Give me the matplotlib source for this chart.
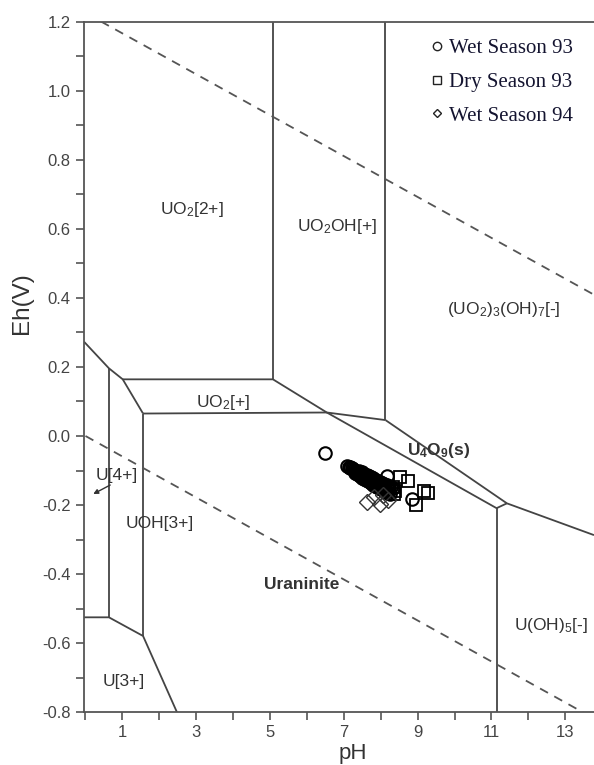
import matplotlib
matplotlib.use("Agg")
import matplotlib.pyplot as plt
from matplotlib.lines import Line2D
from matplotlib.ticker import MultipleLocator, FuncFormatter

plt.rcParams['font.family'] = ['Liberation Sans', 'DejaVu Sans']
plt.rcParams['mathtext.fontset'] = 'custom'
plt.rcParams['mathtext.rm'] = 'Liberation Sans'
plt.rcParams['mathtext.it'] = 'Liberation Sans:italic'
plt.rcParams['mathtext.bf'] = 'Liberation Sans:bold'

# sample points (pH, Eh in V)
wet93_ph = [6.49, 8.17, 8.84,
            7.10, 7.13, 7.16, 7.18, 7.21, 7.24, 7.27, 7.30, 7.33, 7.36,
            7.39, 7.42, 7.45, 7.47, 7.50, 7.53, 7.56, 7.59, 7.62, 7.64,
            7.67, 7.70, 7.73, 7.76, 7.78, 7.81, 7.84, 7.87, 7.90, 7.93,
            7.95, 7.98, 8.01, 8.04, 8.07, 8.10, 8.13, 8.16, 8.19, 8.23,
            7.30, 7.35, 7.40, 7.45, 7.50, 7.55, 7.60, 7.65, 7.70, 7.75,
            7.80, 7.85, 7.90, 7.95, 8.00, 8.05, 8.10, 8.15, 8.20, 8.25,
            7.42, 7.48, 7.56, 7.62, 7.68, 7.74, 7.80, 7.86, 7.92, 7.98,
            8.04, 8.10, 8.16, 8.22, 8.28, 8.32]
wet93_eh = [-0.048, -0.116, -0.182,
            -0.086, -0.089, -0.090, -0.093, -0.094, -0.097, -0.098, -0.101, -0.102, -0.104,
            -0.106, -0.108, -0.110, -0.111, -0.113, -0.115, -0.117, -0.118, -0.120, -0.121,
            -0.123, -0.125, -0.127, -0.128, -0.130, -0.131, -0.133, -0.135, -0.136, -0.138,
            -0.139, -0.141, -0.143, -0.144, -0.146, -0.148, -0.149, -0.151, -0.152, -0.155,
            -0.106, -0.110, -0.114, -0.117, -0.121, -0.124, -0.127, -0.131, -0.134, -0.137,
            -0.141, -0.144, -0.147, -0.150, -0.153, -0.157, -0.160, -0.163, -0.166, -0.169,
            -0.102, -0.105, -0.109, -0.112, -0.116, -0.119, -0.122, -0.126, -0.129, -0.132,
            -0.136, -0.139, -0.142, -0.146, -0.149, -0.152]

dry93_ph = [8.53, 8.75, 9.16, 9.27, 8.96, 8.33, 8.40, 8.36]
dry93_eh = [-0.118, -0.130, -0.159, -0.166, -0.200, -0.148, -0.160, -0.168]

wet94_ph = [7.62, 7.98, 8.21, 7.82, 8.06]
wet94_eh = [-0.190, -0.198, -0.185, -0.178, -0.172]

# stability field boundaries, each a polyline (pH list, Eh list)
boundaries = [
    ([5.08, 5.08], [1.2, 0.164]),
    ([8.13, 8.13], [1.2, 0.046]),
    ([-0.04, 0.635, 1.01, 1.56], [0.273, 0.196, 0.164, 0.065]),
    ([1.01, 5.08, 6.54, 8.13], [0.164, 0.164, 0.068, 0.046]),
    ([1.56, 6.54], [0.065, 0.068]),
    ([8.13, 11.42, 13.78], [0.046, -0.195, -0.287]),
    ([6.54, 11.14, 11.42], [0.068, -0.209, -0.195]),
    ([11.14, 11.14], [-0.209, -0.8]),
    ([0.635, 0.635], [0.196, -0.525]),
    ([1.56, 1.56], [0.065, -0.579]),
    ([-0.04, 0.635, 1.56, 2.48], [-0.525, -0.525, -0.579, -0.8]),
]

# water stability limits
water_upper = ([0.42, 13.78], [1.2, 0.409])
water_lower = ([0.0, 13.48], [0.0, -0.8])

# species labels: text, pH, Eh, bold
species = [
    ('UO$_2$[2+]', 2.88, 0.655, False),
    ('UO$_2$OH[+]', 6.81, 0.607, False),
    ('(UO$_2$)$_3$(OH)$_7$[-]', 11.33, 0.366, False),
    ('UO$_2$[+]', 3.74, 0.097, False),
    (r'$\mathbf{U_4O_9}$(s)', 9.56, -0.042, True),
    ('Uraninite', 5.87, -0.43, True),
    ('U(OH)$_5$[-]', 12.6, -0.548, False),
    ('UOH[3+]', 2.0, -0.253, False),
    ('U[4+]', 0.86, -0.113, False),
    ('U[3+]', 1.03, -0.711, False),
]

fig = plt.figure(figsize=(5.94, 7.65), dpi=100)
ax = fig.add_axes([84 / 594, 1 - 712.3 / 765, 510 / 594, 0.903])

line_col = '#444444'
for xs, ys in boundaries:
    ax.plot(xs, ys, color=line_col, lw=1.3, solid_capstyle='butt')
for xs, ys in (water_upper, water_lower):
    ax.plot(xs, ys, color='#555555', lw=1.3, linestyle=(0, (5, 4)))

for txt, x, y, bold in species:
    ax.text(x, y, txt, ha='center', va='center', fontsize=12.5, color='#333333',
            fontweight='bold' if bold else 'normal')

ax.annotate('', xy=(0.21, -0.168), xytext=(0.67, -0.142),
            arrowprops=dict(arrowstyle='-|>', color='#333333', lw=1.0,
                            mutation_scale=7, shrinkA=0, shrinkB=0))

ax.plot(wet93_ph, wet93_eh, 'o', mfc='none', mec='black', ms=9, mew=1.5)
ax.plot(dry93_ph, dry93_eh, 's', mfc='none', mec='black', ms=9, mew=1.3)
ax.plot(wet94_ph, wet94_eh, 'D', mfc='none', mec='#333333', ms=8, mew=1.0)

ax.set_xlim(-0.04, 13.78)
ax.set_ylim(-0.8, 1.2)
ax.spines['right'].set_visible(False)
for s in ('left', 'bottom', 'top'):
    ax.spines[s].set_color('#555555')
    ax.spines[s].set_linewidth(1.3)

ax.set_xticks([1, 3, 5, 7, 9, 11, 13])
ax.xaxis.set_minor_locator(MultipleLocator(1))
ax.yaxis.set_major_locator(MultipleLocator(0.2))
ax.yaxis.set_minor_locator(MultipleLocator(0.1))
ax.yaxis.set_major_formatter(FuncFormatter(lambda v, p: ('%.1f' % v).replace('−', '-')))
ax.tick_params(which='both', direction='out', color='#555555', width=1.2,
               labelcolor='#444444', labelsize=12)
ax.tick_params(which='major', length=6)
ax.tick_params(which='minor', length=6)

fig.text(22 / 594, 1 - 303 / 765, 'Eh(V)', rotation=90, ha='center', va='center',
         fontsize=17.5, color='#333333')
fig.text(353 / 594, 1 / 765, 'pH', ha='center', va='bottom',
         fontsize=16, color='#333333')

handles = [
    Line2D([], [], marker='o', ls='none', mfc='none', mec='#222222', ms=6, mew=1.0),
    Line2D([], [], marker='s', ls='none', mfc='none', mec='#222222', ms=6, mew=1.0),
    Line2D([], [], marker='D', ls='none', mfc='none', mec='#222222', ms=4.5, mew=1.0),
]
leg = fig.legend(handles, ['Wet Season 93', 'Dry Season 93', 'Wet Season 94'],
                 loc='upper right', bbox_to_anchor=(588 / 594, 1 - 24 / 765),
                 frameon=False, handlelength=0.6, handletextpad=0.3,
                 labelspacing=0.68, borderpad=0.2,
                 prop={'family': 'Liberation Serif', 'size': 15})
for t in leg.get_texts():
    t.set_color('#141430')

fig.savefig('out.png', dpi=100)
